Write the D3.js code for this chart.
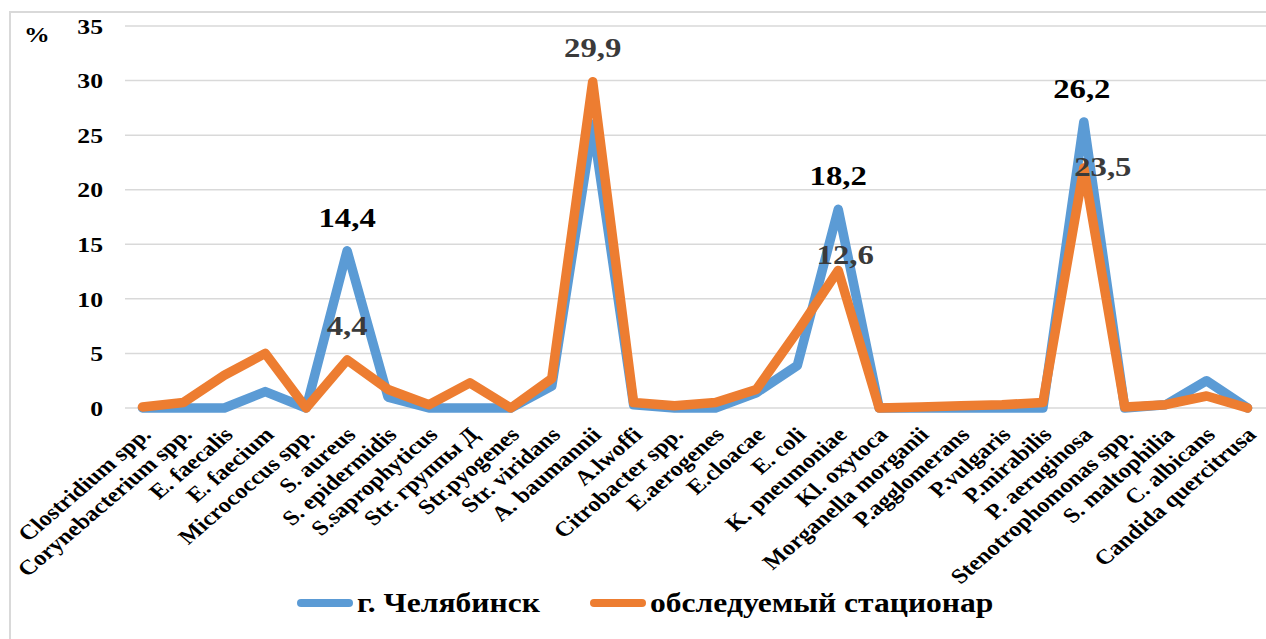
<!DOCTYPE html>
<html><head><meta charset="utf-8">
<script src="https://cdn.jsdelivr.net/npm/d3@7"></script>
<style>
html,body{margin:0;padding:0;background:#fff;}
svg{display:block;}
text{font-family:"Liberation Serif","Times New Roman","DejaVu Serif",serif;font-weight:bold;}
</style></head>
<body><svg id="chart" width="1266" height="639"></svg>
<script>
const categories = ["Clostridium spp.","Corynebacterium spp.","E. faecalis","E. faecium","Micrococcus spp.","S. aureus","S. epidermidis","S.saprophyticus","Str. группы Д","Str.pyogenes","Str. viridans","A. baumannii","A.lwoffi","Citrobacter spp.","E.aerogenes","E.cloacae","E. coli","K. pneumoniae","Kl. oxytoca","Morganella morganii","P.agglomerans","P.vulgaris","P.mirabilis","P. aeruginosa","Stenotrophomonas spp.","S. maltophilia","C. albicans","Candida quercitrusa"];
const chelyabinsk = [0,0,0,1.5,0,14.4,1.0,0,0,0,2.0,26.0,0.3,0,0,1.4,3.9,18.2,0,0,0,0,0,26.2,0,0.3,2.5,0];
const hospital    = [0.1,0.5,3.0,5.0,0,4.4,1.7,0.3,2.3,0,2.7,29.9,0.5,0.2,0.5,1.7,7.0,12.6,0,0.1,0.2,0.3,0.5,22.0,0.1,0.3,1.1,0];
const seriesNames = ["г. Челябинск","обследуемый стационар"];
const yTicks = [0,5,10,15,20,25,30,35];
// data labels: [series index, category index, text]
const labelSeries = [0,1,1,0,1,0,1];
const labelCats   = [5,5,11,17,17,23,23];
const labelTexts  = ["14,4","4,4","29,9","18,2","12,6","26,2","23,5"];

const W = 1266, H = 639;
const SX = 1.17; // horizontal stretch of the source picture
const colors = ["#5b9bd5","#ed7d31"];
const FONT = "'Liberation Serif','Times New Roman','DejaVu Serif',serif";
const svg = d3.select("#chart");

// outer frame
svg.append("rect").attr("x",10).attr("y",12).attr("width",W+20).attr("height",H+20)
  .attr("fill","none").attr("stroke","#d9d9d9").attr("stroke-width",2);

const x = d3.scalePoint().domain(categories).range([122,1268]).padding(0.5);
const y = d3.scaleLinear().domain([0,35]).range([408,26]);

// gridlines
svg.append("g").selectAll("line").data(yTicks).join("line")
  .attr("x1",125).attr("x2",1266)
  .attr("y1",d=>y(d)).attr("y2",d=>y(d))
  .attr("stroke","#d9d9d9").attr("stroke-width",1.5);

function stext(g, tx, ty, str, opts={}){
  const t = g.append("text")
    .attr("transform",`translate(${tx},${ty}) scale(${SX},1)` + (opts.rot?` rotate(${opts.rot})`:""))
    .attr("text-anchor",opts.anchor||"start")
    .attr("font-family",FONT).attr("font-weight","bold")
    .attr("font-size",opts.size||20)
    .attr("fill",opts.fill||"#000")
    .text(str);
  if(opts.dy) t.attr("dy",opts.dy);
  return t;
}

// y tick labels
const yg = svg.append("g");
yTicks.forEach(v=>stext(yg,103,y(v),d3.format("d")(v),{anchor:"end",size:22,dy:"0.35em"}));
stext(svg,24,42,"%",{size:22});

// lines
const line = d3.line().x((d,i)=>x(categories[i])).y(d=>y(d));
[chelyabinsk,hospital].forEach((s,k)=>{
  svg.append("path").datum(s).attr("d",line).attr("fill","none")
    .attr("stroke",colors[k]).attr("stroke-width",9.5)
    .attr("stroke-linejoin","round").attr("stroke-linecap","round");
});

// category labels
const cg = svg.append("g");
categories.forEach(c=>stext(cg,x(c)+10,436,c,{anchor:"end",size:21,rot:-45}));

// data labels
const lg = svg.append("g");
const lblOff = {"14,4":[0,-24],"4,4":[0,-25],"29,9":[0,-25],"18,2":[0,-24],"12,6":[7,-6],"26,2":[-2,-24],"23,5":[19,8]};
labelTexts.forEach((t,i)=>{
  const s = labelSeries[i]===0?chelyabinsk:hospital;
  const c = categories[labelCats[i]];
  const o = lblOff[t];
  const fill = (t==="14,4"||t==="18,2"||t==="26,2")?"#000":"#3a3a3a";
  stext(lg,x(c)+o[0],y(s[labelCats[i]])+o[1],t,{anchor:"middle",size:28,fill});
});

// legend
const leg = svg.append("g");
const legX = [297,590];
const legT = [357,650];
seriesNames.forEach((n,k)=>{
  leg.append("line").attr("x1",legX[k]+4).attr("x2",legX[k]+52).attr("y1",603).attr("y2",603)
    .attr("stroke",colors[k]).attr("stroke-width",8).attr("stroke-linecap","round");
  stext(leg,legT[k],612,n,{size:27});
});
</script></body></html>
